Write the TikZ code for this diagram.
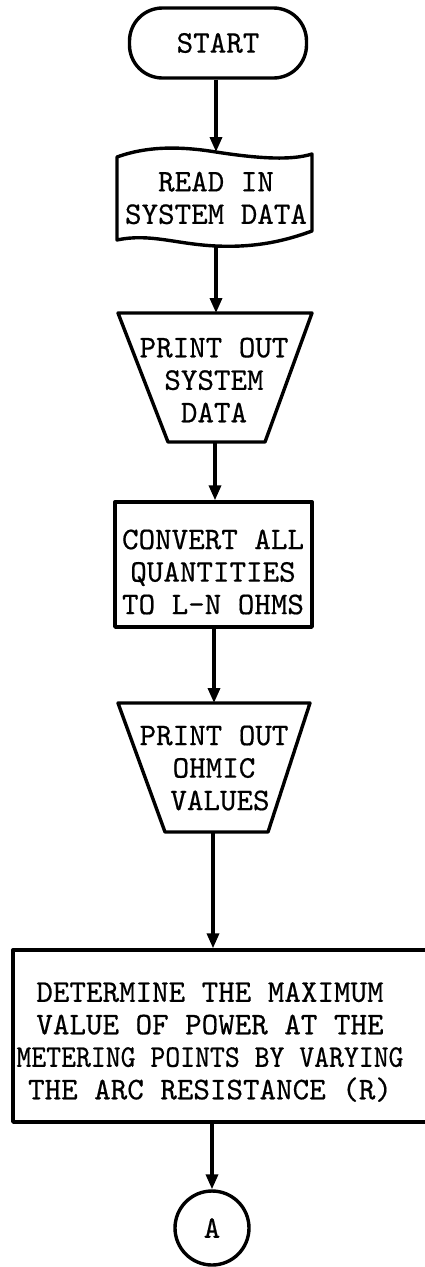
\documentclass[tikz,border=0pt]{standalone}
\usepackage{fontspec}
\newfontfamily\tw{lmmono10-regular.otf}[FakeBold=0.5]
\usetikzlibrary{arrows.meta}
\begin{document}
\begin{tikzpicture}[x=1pt,y=-1pt,
  every node/.style={font=\fontsize{31.5}{32.5}\selectfont\tw},
  shp/.style={line width=3.4pt, line join=round},
  box/.style={shp, draw, rectangle, inner sep=0pt},
  arr/.style={line width=3.4pt, -{Triangle[length=15pt,width=12pt]}},
  txt/.style={align=center, inner sep=0pt}]
\useasboundingbox (0,0) rectangle (424,1267);

% START terminal
\node[box, rounded corners=33pt, minimum width=177pt, minimum height=70pt] (start) at (218,43) {START};

% READ IN (document / card shape)
\draw[shp] (117,157) .. controls (150,145) and (185,147) .. (216,152)
  .. controls (255,158) and (290,161) .. (312,154) -- (312,231)
  .. controls (290,239) and (260,248) .. (216,246)
  .. controls (175,244) and (150,233) .. (117,240) -- cycle;
\coordinate (doct) at (216,152);
\coordinate (docb) at (216,246);
\node[txt] (doctext) at (216,198) {READ IN\\SYSTEM DATA};

% PRINT OUT SYSTEM DATA (trapezoid)
\draw[shp] (118,313) -- (312,313) -- (265,442) -- (168,442) -- cycle;
\coordinate (tat) at (216,313);
\coordinate (tab) at (215,442);
\node[txt] (tatext) at (214,380) {PRINT OUT\\SYSTEM\\DATA};

% CONVERT box
\node[box, minimum width=197pt, minimum height=125pt] (conv) at (213.5,564.5) {};
\node[txt] (convtext) at (213,572) {CONVERT ALL\\QUANTITIES\\TO L–N OHMS};

% PRINT OUT OHMIC VALUES (trapezoid)
\draw[shp] (118,703) -- (310,703) -- (268,832) -- (165,832) -- cycle;
\coordinate (tbt) at (214,703);
\coordinate (tbb) at (213,832);
\node[txt] (tbtext) at (214,768) {PRINT OUT\\OHMIC\\\hspace*{12pt}VALUES};

% DETERMINE box (right edge runs off the page)
\node[box, minimum width=415pt, minimum height=172pt] (det) at (220.5,1036) {};
\node[txt] (dettext) at (210,1042) {DETERMINE THE MAXIMUM\\VALUE OF POWER AT THE\\\scalebox{0.9}[1]{METERING POINTS BY VARYING}\\THE ARC RESISTANCE (R)};

% connector A
\node[shp, draw, circle, minimum size=74pt, inner sep=0pt] (conA) at (212,1228) {A};

% connectors
\draw[arr] (start.south -| doct) -- (doct);
\draw[arr] (docb) -- (tat);
\draw[arr] (tab) -- (conv.north -| tab);
\draw[arr] (conv.south -| tbt) -- (tbt);
\draw[arr] (tbb) -- (det.north -| tbb);
\draw[arr] (det.south -| conA) -- (conA.north);
\end{tikzpicture}
\end{document}
